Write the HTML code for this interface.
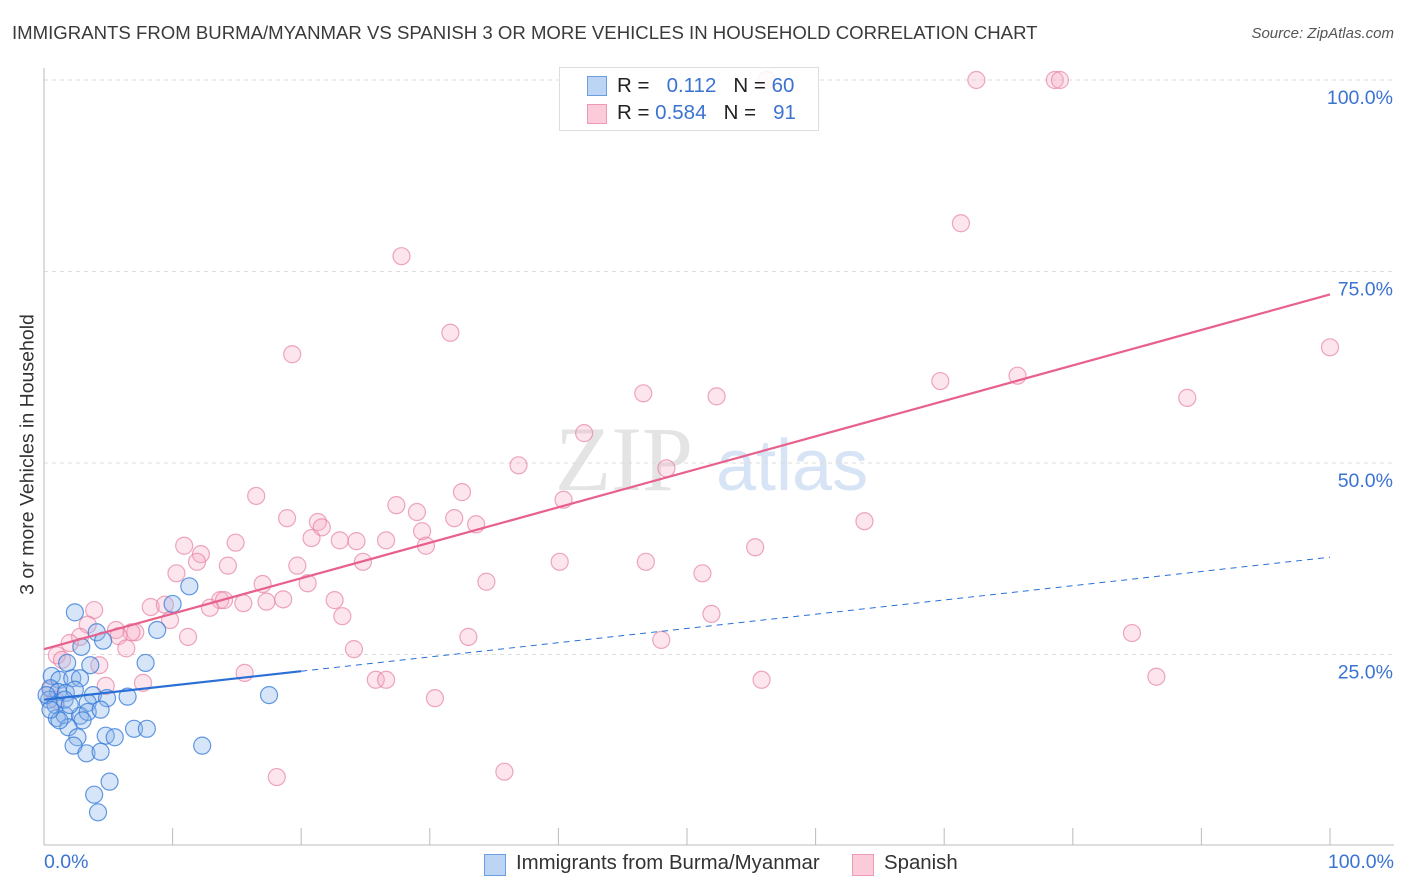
<!DOCTYPE html>
<html><head><meta charset="utf-8"><style>
body{margin:0;background:#fff;font-family:"Liberation Sans",sans-serif;}
#wrap{position:relative;width:1406px;height:892px;overflow:hidden;}
.t{position:absolute;white-space:nowrap;}
</style></head><body>
<div id="wrap">
<div class="t" style="left:12px;top:22px;font-size:18.6px;color:#3a3a3a;">IMMIGRANTS FROM BURMA/MYANMAR VS SPANISH 3 OR MORE VEHICLES IN HOUSEHOLD CORRELATION CHART</div>
<div class="t" style="right:12px;top:25px;font-size:15px;color:#555;font-style:italic;">Source: ZipAtlas.com</div>
<svg id="svg" width="1406" height="892" style="position:absolute;left:0;top:0"></svg>
</div>
<script>
const yTicks=[25,50,75,100];
const yTickLabels=["25.0%","50.0%","75.0%","100.0%"];
const blueX=[2.4,4.1,4.6,2.9,1.8,3.6,7.9,8.8,10.0,11.3,0.6,1.2,2.2,2.8,0.5,1.1,1.7,2.4,3.8,4.9,6.5,0.4,0.9,3.4,17.5,1.0,1.6,2.8,3.4,3.0,1.9,7.0,8.0,4.8,5.5,2.6,2.3,3.3,4.4,12.3,5.1,3.9,4.2,1.2,0.2,0.5,1.6,2.0,4.4];
const blueY=[30.5,27.9,26.8,26.0,23.9,23.6,23.9,28.2,31.6,33.9,22.2,21.7,21.9,21.9,20.6,20.1,20.0,20.4,19.7,19.3,19.5,19.1,18.4,18.7,19.7,16.7,17.1,17.0,17.5,16.4,15.5,15.3,15.3,14.4,14.2,14.2,13.1,12.1,12.3,13.1,8.4,6.7,4.4,16.4,19.7,17.8,19.1,18.4,17.8];
const pinkX=[56.2,72.5,78.6,79.0,71.3,27.8,100,19.3,31.6,69.7,75.7,88.9,46.6,52.3,42.0,36.9,48.4,16.5,32.5,40.4,27.4,29.0,18.9,21.3,21.6,31.9,33.6,20.8,23.0,24.3,26.6,29.4,29.7,63.8,55.3,10.9,14.9,12.2,11.9,14.3,19.7,24.8,40.1,46.8,10.3,51.2,34.4,20.5,17.0,13.7,14.0,15.5,17.3,18.6,22.6,8.3,9.4,12.9,3.9,23.2,51.9,9.8,3.4,5.6,7.1,6.8,5.8,2.8,2.0,11.2,33.0,48.0,84.6,6.4,1.0,1.4,4.3,15.6,25.8,26.6,86.5,55.8,7.7,4.8,30.4,18.1,35.8,24.1,0.5,0.9];
const pinkY=[100,100,100,100,81.3,77.0,65.1,64.2,67.0,60.7,61.4,58.5,59.1,58.7,53.9,49.7,49.3,45.7,46.2,45.2,44.5,43.6,42.8,42.3,41.6,42.8,42.0,40.2,39.9,39.8,39.9,41.1,39.2,42.4,39.0,39.2,39.6,38.1,37.1,36.6,36.6,37.1,37.1,37.1,35.6,35.6,34.5,34.3,34.2,32.1,32.1,31.7,31.9,32.2,32.1,31.2,31.5,31.1,30.8,30.0,30.3,29.5,28.9,28.2,27.9,27.9,27.4,27.3,26.5,27.3,27.3,26.9,27.8,25.8,24.9,24.3,23.6,22.6,21.7,21.7,22.1,21.7,21.3,20.9,19.3,9.0,9.7,25.7,20.4,19.1];
const blueTrend=[19.1,0.186];
const pinkTrend=[25.7,0.463];
const X0=44,X1=1330,Y0=846,Y100=80;
const sx=v=>X0+(X1-X0)*v/100, sy=v=>Y0-(Y0-Y100)*v/100;
const svg=document.getElementById('svg');const NS='http://www.w3.org/2000/svg';
function mk(tag,attrs,parent){const e=document.createElementNS(NS,tag);for(const k in attrs)e.setAttribute(k,attrs[k]);(parent||svg).appendChild(e);return e;}
let wm=mk('text',{x:555,y:490,'font-size':92,'font-family':'Liberation Serif',fill:'#e4e4e4'});wm.textContent='ZIP';


let wm2=mk('text',{x:716,y:490,'font-size':72,'font-family':'Liberation Sans',fill:'#d6e4f5'});wm2.textContent='atlas';


yTicks.forEach((v,i)=>{
 let g=mk('line',{x1:X0,x2:1394,y1:sy(v),y2:sy(v),stroke:'#dddddd','stroke-dasharray':'4,4'});
 
 
 let t=mk('text',{x:1393,y:sy(v)+24,'text-anchor':'end','font-size':19.5,fill:'#3b73d1'});t.textContent=yTickLabels[i];
 
 
});
mk('line',{x1:X0,x2:X0,y1:68,y2:845,stroke:'#bbb'});
mk('line',{x1:X0,x2:1394,y1:845,y2:845,stroke:'#bbb'});
for(let i=0;i<=10;i++){let l=mk('line',{x1:sx(i*10),x2:sx(i*10),y1:828,y2:845,stroke:'#bbb'});
 
 }
function dots(xs,ys,fill,stroke,name){xs.forEach((x,i)=>{let c=mk('circle',{cx:sx(x),cy:sy(ys[i]),r:8.5,fill:fill,stroke:stroke,'stroke-width':1.2});
 
 });}
dots(pinkX,pinkY,'rgba(248,170,195,0.3)','rgba(230,130,165,0.7)','spanish-point');
dots(blueX,blueY,'rgba(140,180,235,0.35)','rgba(50,120,215,0.75)','burma-point');
let pl=mk('line',{x1:sx(0),y1:sy(pinkTrend[0]),x2:sx(100),y2:sy(pinkTrend[0]+pinkTrend[1]*100),stroke:'#e8608c','stroke-width':2.2});


let bl=mk('line',{x1:sx(0),y1:sy(blueTrend[0]),x2:sx(20),y2:sy(blueTrend[0]+blueTrend[1]*20),stroke:'#2a6fd6','stroke-width':2.2});


let bd=mk('line',{x1:sx(20),y1:sy(blueTrend[0]+blueTrend[1]*20),x2:sx(100),y2:sy(blueTrend[0]+blueTrend[1]*100),stroke:'#2a6fd6','stroke-width':1,'stroke-dasharray':'6,5'});


</script>
<div class="t" style="left:44px;top:851px;font-size:19.5px;color:#3b73d1;">0.0%</div>
<div class="t" style="right:12px;top:851px;font-size:19.5px;color:#3b73d1;">100.0%</div>
<div class="t" style="left:-122px;top:443px;font-size:19.5px;color:#333;transform:rotate(-90deg);width:300px;text-align:center;">3 or more Vehicles in Household</div>
<div style="position:absolute;left:559px;top:67px;width:258px;height:62px;border:1px solid #ddd;background:rgba(255,255,255,0.85);font-size:20.5px;color:#222;">
 <div style="position:absolute;left:27px;top:8px;width:18px;height:18px;background:#bcd5f5;border:1px solid #6a9ee0"></div>
 <div class="t" style="left:57px;top:6px;">R = &nbsp; <span style="color:#3b73d1">0.112</span> &nbsp; N = <span style="color:#3b73d1">60</span></div>
 <div style="position:absolute;left:27px;top:36px;width:18px;height:18px;background:#fbcbd9;border:1px solid #ee9ab5"></div>
 <div class="t" style="left:57px;top:33px;">R = <span style="color:#3b73d1">0.584</span> &nbsp; N = &nbsp; <span style="color:#3b73d1">91</span></div>
</div>
<div style="position:absolute;left:484px;top:852px;font-size:20.4px;color:#333;">
 <div style="position:absolute;left:0;top:2px;width:20px;height:20px;background:#bcd5f5;border:1px solid #6a9ee0"></div>
 <div class="t" style="left:32px;top:0;">Immigrants from Burma/Myanmar</div></div>
<div style="position:absolute;left:852px;top:852px;font-size:20.4px;color:#333;">
 <div style="position:absolute;left:0;top:2px;width:20px;height:20px;background:#fbcbd9;border:1px solid #ee9ab5"></div>
 <div class="t" style="left:32px;top:0;">Spanish</div></div>
</body></html>
